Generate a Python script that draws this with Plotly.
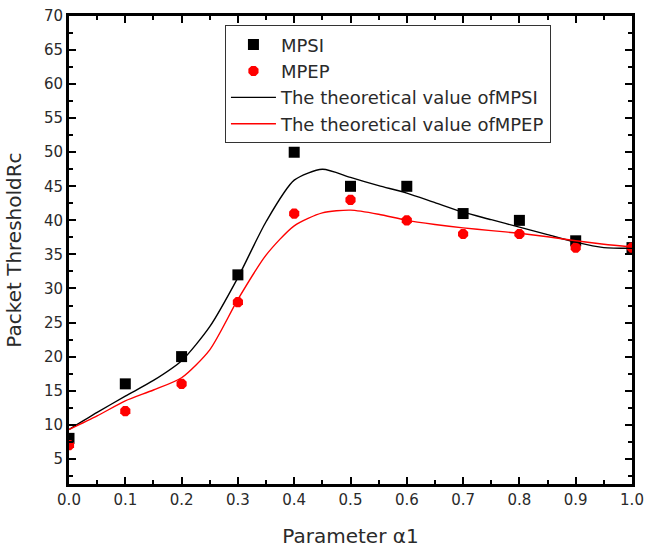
import plotly.graph_objects as go

# Measured packet thresholds
alpha = [0.0, 0.1, 0.2, 0.3, 0.4, 0.5, 0.6, 0.7, 0.8, 0.9, 1.0]
mpsi = [8, 16, 20, 32, 50, 45, 45, 41, 40, 37, 36]
mpep = [7, 12, 16, 28, 41, 43, 40, 38, 38, 36, 36]

# Theoretical curves, sampled every 0.05
alpha_fine = [0.0, 0.05, 0.1, 0.15, 0.2, 0.25, 0.3, 0.35, 0.4, 0.45, 0.5,
              0.55, 0.6, 0.65, 0.7, 0.75, 0.8, 0.85, 0.9, 0.95, 1.0]
theory_mpsi = [9.3, 11.8, 14.2, 16.5, 19.4, 24.4, 31.6, 39.8, 45.9, 47.5, 46.3,
               45.1, 44.0, 42.6, 41.2, 40.1, 39.0, 37.9, 36.8, 36.0, 35.9]
theory_mpep = [9.3, 11.3, 13.5, 15.1, 16.9, 21.0, 28.4, 34.9, 39.2, 41.1, 41.5,
               40.9, 40.0, 39.4, 38.9, 38.5, 38.1, 37.6, 37.0, 36.5, 36.1]

x_ticks = [0.0, 0.1, 0.2, 0.3, 0.4, 0.5, 0.6, 0.7, 0.8, 0.9, 1.0]
y_ticks = list(range(5, 75, 5))

FONT = "DejaVu Sans, Liberation Sans, Arial, sans-serif"
TXT = "#2a2a2a"

fig = go.Figure()
fig.add_trace(go.Scatter(
    x=alpha, y=mpsi, mode="markers", name="MPSI", legendgroup="a",
    marker=dict(symbol="square", size=11, color="black"),
))
fig.add_trace(go.Scatter(
    x=alpha, y=mpep, mode="markers", name="MPEP", legendgroup="b",
    marker=dict(symbol="octagon", size=11, color="red"),
))
fig.add_trace(go.Scatter(
    x=alpha_fine, y=theory_mpsi, mode="lines", name="The theoretical value ofMPSI",
    legendgroup="c", line=dict(color="black", width=1.4, shape="spline", smoothing=0.7),
))
fig.add_trace(go.Scatter(
    x=alpha_fine, y=theory_mpep, mode="lines", name="The theoretical value ofMPEP",
    legendgroup="d", line=dict(color="red", width=1.4, shape="spline", smoothing=0.7),
))

axis_common = dict(
    showline=True, linecolor="black", linewidth=3, mirror="ticks",
    ticks="inside", ticklen=7, tickwidth=2, tickcolor="black",
    showgrid=False, zeroline=False, automargin=False,
    tickfont=dict(family=FONT, size=15, color=TXT),
    title_font=dict(family=FONT, size=20, color=TXT),
)

fig.update_xaxes(
    range=[0, 1], tickvals=x_ticks, tickformat=".1f",
    minor=dict(ticks="inside", ticklen=4, tickwidth=2, tickcolor="black", dtick=0.05, tick0=0),
    title_text="Parameter α1", title_standoff=21,
    **axis_common,
)
fig.update_yaxes(
    range=[1.3, 70], tickvals=y_ticks,
    minor=dict(ticks="inside", ticklen=4, tickwidth=2, tickcolor="black", dtick=2.5, tick0=0),
    title_text="Packet ThresholdRc", title_standoff=17,
    **axis_common,
)

fig.update_layout(
    width=646, height=552,
    margin=dict(l=69, r=14, t=16, b=68),
    paper_bgcolor="white", plot_bgcolor="white",
    showlegend=True,
    legend=dict(
        x=0.277, y=0.98, xanchor="left", yanchor="top",
        bgcolor="white", bordercolor="#333", borderwidth=1,
        font=dict(family=FONT, size=18, color=TXT),
        traceorder="grouped", tracegroupgap=0, itemwidth=45,
    ),
)

fig.write_html("out.html")
